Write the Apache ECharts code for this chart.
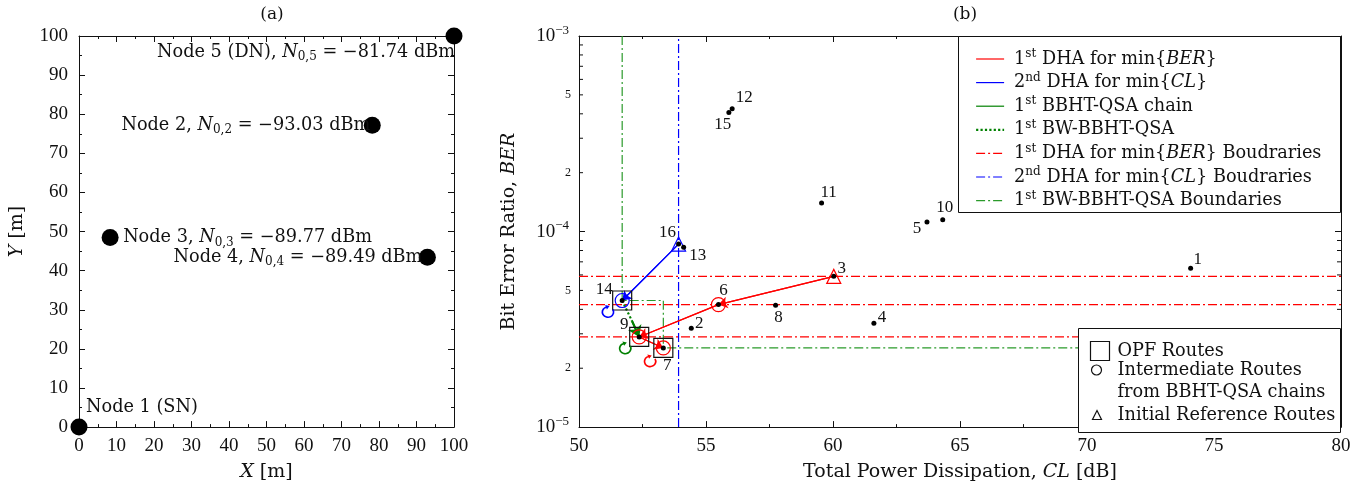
<!DOCTYPE html>
<html><head><meta charset="utf-8">
<script src="https://cdn.jsdelivr.net/npm/echarts@6/dist/echarts.min.js"></script>
<style>html,body{margin:0;padding:0;background:#fff}#c{width:1365px;height:489px}</style>
</head><body><div id="c"></div>
<script>
// ---------- Panel (a): node layout ----------
const nodeNames = ['Node 1 (SN)', 'Node 2', 'Node 3', 'Node 4', 'Node 5 (DN)'];
const nodeX = [0, 78.2, 8.3, 92.9, 100];
const nodeY = [0, 77.2, 48.5, 43.4, 100];
const nodeNoise = [null, -93.03, -89.77, -89.49, -81.74];
const nodeSub = [null, '0,2', '0,3', '0,4', '0,5'];
const axisTicksA = [0, 10, 20, 30, 40, 50, 60, 70, 80, 90, 100];

// ---------- Panel (b): routes ----------
const routeIds = [1, 2, 3, 4, 5, 6, 7, 8, 9, 10, 11, 12, 13, 14, 15, 16];
const routeCL  = [74.08, 54.42, 60.03, 61.61, 63.70, 55.49, 53.32, 57.74, 52.37, 64.32, 59.55, 56.03, 54.12, 51.70, 55.90, 53.92];
const routeBER = [6.5e-5, 3.2e-5, 5.9e-5, 3.4e-5, 1.12e-4, 4.23e-5, 2.54e-5, 4.2e-5, 2.89e-5, 1.15e-4, 1.4e-4, 4.25e-4, 8.3e-5, 4.44e-5, 4.06e-4, 8.63e-5];

const redPath = [3, 6, 9, 7];          // 1st DHA for min{BER}
const bluePath = [16, 14];             // 2nd DHA for min{CL}
const chainMid = [52.09, 3.48e-5];     // where the BW dotted part turns into the chain arrow
const opfRoutes = [14, 9, 7];
const intermediateRed = [6, 9, 7];
const intermediateBlue = [14];
const initialRed = [3];
const initialBlue = [16];

const loopCL  = [51.14, 51.82, 52.80];
const loopBER = [3.9e-5, 2.54e-5, 2.18e-5];

const redBoundBER = [5.9e-5, 4.23e-5, 2.89e-5];
const blueBoundCL = [53.92];
const greenBound = [[51.70, 1e-3], [51.70, 4.44e-5], [53.32, 4.44e-5], [53.32, 2.54e-5], [80, 2.54e-5]];

const xTicksB = [50, 55, 60, 65, 70, 75, 80];
const X_MIN = 50, X_MAX = 80, BER_MIN = 1e-5, BER_MAX = 1e-3;
const berMinorTicks = [2e-5,3e-5,4e-5,5e-5,6e-5,7e-5,8e-5,9e-5,2e-4,3e-4,4e-4,5e-4,6e-4,7e-4,8e-4,9e-4];
const berMinorLabelVals = [2e-5, 5e-5, 2e-4, 5e-4];
const berMinorLabels = ['2', '5', '2', '5'];

// ---------- styles ----------
const FONT = 'DejaVu Serif';
const NUMFONT = 'Liberation Serif';
const INK = '#111';
const RED = '#ff0000', BLUE = '#0000ff', GREEN = '#008000', GREEN_B = '#2a9a2a';
const DASHDOT = [9, 3, 2, 3];
const loopColors = [BLUE, GREEN, RED];
const ROUTE_DOT = 5, NODE_DOT = 17;
const routeLabelOffset = {
  1:[7,-9], 2:[8,-5], 3:[8,-8], 4:[8,-6], 5:[-10,7], 6:[5,-14], 7:[4,18], 8:[3,12],
  9:[-15,-12], 10:[2,-12], 11:[7,-10], 12:[12,-11], 13:[14,8], 14:[-18,-11], 15:[-6,12], 16:[-11,-12]
};
const nodeLabelStyle = [
  {align:'left', offset:[7,-20]},
  {align:'right', offset:[-2,0]},
  {align:'left', offset:[13,0]},
  {align:'right', offset:[-5,0]},
  {align:'right', offset:[1,16]}
];

const N_DHA1 = '1st DHA for min{BER}';
const N_DHA2 = '2nd DHA for min{CL}';
const N_CHAIN = '1st BBHT-QSA chain';
const N_BW = '1st BW-BBHT-QSA';
const N_DHA1B = '1st DHA for min{BER} Boudraries';
const N_DHA2B = '2nd DHA for min{CL} Boudraries';
const N_BWB = '1st BW-BBHT-QSA Boundaries';
const N_OPF = 'OPF Routes';
const N_INT = 'Intermediate Routes\nfrom BBHT-QSA chains';
const N_INIT = 'Initial Reference Routes';
const legendRich = {};
legendRich[N_DHA1] = '1{sup|st} DHA for min{{it|BER}}';
legendRich[N_DHA2] = '2{sup|nd} DHA for min{{it|CL}}';
legendRich[N_CHAIN] = '1{sup|st} BBHT-QSA chain';
legendRich[N_BW] = '1{sup|st} BW-BBHT-QSA';
legendRich[N_DHA1B] = '1{sup|st} DHA for min{{it|BER}} Boudraries';
legendRich[N_DHA2B] = '2{sup|nd} DHA for min{{it|CL}} Boudraries';
legendRich[N_BWB] = '1{sup|st} BW-BBHT-QSA Boundaries';

const LOOP_PATH = 'path://M82.9,31 A38,38 0 1 1 37,14.3 L33.6,4.9 L59.4,11.5 L43.8,33.1 L40.4,23.7 A28,28 0 1 0 74.2,36 Z';

function pt(id) { return [routeCL[id - 1], routeBER[id - 1]]; }
function segs(points) { const s = []; for (let i = 0; i < points.length - 1; i++) s.push({coords: [points[i], points[i + 1]]}); return s; }

const TXT = 17.7;
const richCommon = {
  it: {fontFamily: FONT, fontStyle: 'italic', fontSize: TXT, lineHeight: 22, color: INK},
  sup: {fontFamily: FONT, fontSize: 12, lineHeight: 13, verticalAlign: 'top', color: INK},
  sub: {fontFamily: FONT, fontSize: 12, lineHeight: 12, verticalAlign: 'bottom', color: INK}
};

const axisLineS = {show: true, onZero: false, lineStyle: {color: INK, width: 1}};
const tickS = {show: true, inside: true, length: 6, lineStyle: {color: INK, width: 1}};
const minorS = {show: true, splitNumber: 2, length: 3, lineStyle: {color: INK, width: 1}};

function valAxis(gridIndex, pos, min, max, interval, showLabel, extra) {
  return Object.assign({
    gridIndex, type: 'value', position: pos, min, max, interval,
    axisLine: axisLineS, axisTick: tickS, minorTick: minorS,
    splitLine: {show: false}, minorSplitLine: {show: false},
    axisLabel: {show: showLabel, fontFamily: NUMFONT, fontSize: 19, color: INK,
      margin: (pos === 'left' ? 11 : 9)}
  }, extra || {});
}
function logAxis(pos, showLabel, extra) {
  return Object.assign({
    gridIndex: 1, type: 'log', logBase: 10, position: pos, min: BER_MIN, max: BER_MAX,
    axisLine: axisLineS, axisTick: tickS, minorTick: {show: false},
    splitLine: {show: false}, minorSplitLine: {show: false},
    axisLabel: {
      show: showLabel, margin: 10, fontFamily: NUMFONT, color: INK, fontSize: 19, lineHeight: 24,
      formatter: v => '{b|10}{s|\u2212' + Math.abs(Math.round(Math.log10(v))) + '}',
      rich: {
        b: {fontFamily: NUMFONT, fontSize: 19, lineHeight: 24, color: INK},
        s: {fontFamily: NUMFONT, fontSize: 13, lineHeight: 14, verticalAlign: 'top', color: INK}
      }
    }
  }, extra || {});
}
const nameStyle = {fontFamily: FONT, color: INK, fontSize: 19, lineHeight: 24, rich: {
  i: {fontFamily: FONT, fontStyle: 'italic', fontSize: 19, lineHeight: 24, color: INK}
}};

const gB = {xAxisIndex: 2, yAxisIndex: 2};
const series = [];

// boundaries
redBoundBER.forEach(b => series.push({type: 'line', name: N_DHA1B, ...gB, data: [[X_MIN, b], [X_MAX, b]], color: RED,
  symbol: 'none', silent: true, z: 2, lineStyle: {color: RED, width: 1.2, type: DASHDOT}}));
blueBoundCL.forEach(c => series.push({type: 'line', name: N_DHA2B, ...gB, data: [[c, BER_MIN], [c, BER_MAX]], color: BLUE,
  symbol: 'none', silent: true, z: 2, lineStyle: {color: BLUE, width: 1.2, type: DASHDOT}}));
series.push({type: 'line', name: N_BWB, ...gB, data: greenBound, color: GREEN_B,
  symbol: 'none', silent: true, z: 2, lineStyle: {color: GREEN_B, width: 1.2, type: DASHDOT}});

// search paths
function pathSeries(name, points, color, width, type, arrows, arrowSize) {
  series.push({type: 'line', name, ...gB, data: points, symbol: 'none', silent: true, z: 4, color,
    lineStyle: {color, width, type: type || 'solid'}});
  if (arrows) series.push({type: 'lines', name, coordinateSystem: 'cartesian2d', ...gB, data: segs(points),
    symbol: ['none', 'arrow'], symbolSize: arrowSize || 9, silent: true, z: 4,
    lineStyle: {color, width, type: 'solid', curveness: 0, opacity: 1}});
}
pathSeries(N_DHA1, redPath.map(pt), RED, 1.2, 'solid', true, 9);
pathSeries(N_DHA2, bluePath.map(pt), BLUE, 1.2, 'solid', true, 9);
pathSeries(N_CHAIN, [chainMid, pt(9)], GREEN, 2, 'solid', true, 11);
pathSeries(N_BW, [pt(14), chainMid], GREEN, 2.2, 'dotted', false);

// markers
series.push({type: 'scatter', name: N_OPF, ...gB, data: opfRoutes.map(pt), symbol: 'rect', symbolSize: 19, z: 6, silent: true,
  itemStyle: {color: 'none', borderColor: '#111', borderWidth: 1.2, opacity: 1}});
series.push({type: 'scatter', name: N_INT, ...gB, symbol: 'circle', symbolSize: 14, z: 6, silent: true,
  itemStyle: {color: 'none', borderColor: '#111', borderWidth: 1.2, opacity: 1},
  data: intermediateRed.map(id => ({value: pt(id), itemStyle: {borderColor: RED}}))
    .concat(intermediateBlue.map(id => ({value: pt(id), itemStyle: {borderColor: BLUE}})))});
series.push({type: 'scatter', name: N_INIT, ...gB, symbol: 'triangle', symbolSize: 14, z: 6, silent: true,
  itemStyle: {color: 'none', borderColor: '#111', borderWidth: 1.2, opacity: 1},
  data: initialRed.map(id => ({value: pt(id), itemStyle: {borderColor: RED}}))
    .concat(initialBlue.map(id => ({value: pt(id), itemStyle: {borderColor: BLUE}})))});
series.push({type: 'scatter', name: 'loops', ...gB, symbol: LOOP_PATH, symbolSize: 13, z: 6, silent: true,
  itemStyle: {opacity: 1},
  data: loopCL.map((c, i) => ({value: [c, loopBER[i]], itemStyle: {color: loopColors[i]}}))});

// route dots with numbers
series.push({type: 'scatter', name: 'routes', ...gB, symbolSize: ROUTE_DOT, z: 8, silent: true,
  itemStyle: {color: '#000', opacity: 1},
  data: routeIds.map(id => ({value: pt(id), label: {position: [ROUTE_DOT / 2 + routeLabelOffset[id][0], ROUTE_DOT / 2 + routeLabelOffset[id][1]]}})),
  label: {show: true, align: 'center', verticalAlign: 'middle', formatter: p => String(routeIds[p.dataIndex]),
    fontFamily: NUMFONT, fontSize: 17, color: INK}});

// log minor ticks and their labels
series.push({type: 'custom', name: 'minorTicks', ...gB, clip: false, silent: true, z: 3,
  data: berMinorTicks.map(v => [X_MIN, v]),
  renderItem: (params, api) => {
    const v = api.value(1);
    const pL = api.coord([X_MIN, v]);
    const pR = api.coord([X_MAX, v]);
    return {type: 'group', children: [
      {type: 'line', shape: {x1: pL[0], y1: pL[1], x2: pL[0] + 4, y2: pL[1]}, style: {stroke: INK, lineWidth: 1}},
      {type: 'line', shape: {x1: pR[0], y1: pR[1], x2: pR[0] - 4, y2: pR[1]}, style: {stroke: INK, lineWidth: 1}}
    ]};
  }});
series.push({type: 'custom', name: 'minorLabels', ...gB, clip: false, silent: true, z: 3,
  data: berMinorLabelVals.map(v => [X_MIN, v]),
  renderItem: (params, api) => {
    const p = api.coord([X_MIN, api.value(1)]);
    return {type: 'text', x: p[0] - 8, y: p[1], style: {text: berMinorLabels[params.dataIndex],
      fontFamily: NUMFONT, fontSize: 12, fill: INK, align: 'right', verticalAlign: 'middle'}};
  }});

// panel (a) nodes
series.push({type: 'scatter', name: 'nodes', xAxisIndex: 0, yAxisIndex: 0, symbolSize: NODE_DOT, z: 5, silent: true,
  itemStyle: {color: '#000', opacity: 1},
  data: nodeX.map((x, i) => ({value: [x, nodeY[i]], label: {align: nodeLabelStyle[i].align,
    position: [NODE_DOT / 2 + nodeLabelStyle[i].offset[0], NODE_DOT / 2 + nodeLabelStyle[i].offset[1]]}})),
  label: {show: true, verticalAlign: 'middle', fontFamily: FONT, fontSize: TXT, lineHeight: 22, color: INK,
    formatter: p => {
      const i = p.dataIndex;
      if (nodeNoise[i] == null) return nodeNames[i];
      return nodeNames[i] + ', {it|N}{sub|' + nodeSub[i] + '} = \u2212' + Math.abs(nodeNoise[i]).toFixed(2) + ' dBm';
    },
    rich: richCommon}});

const legendText = {fontFamily: FONT, fontSize: TXT, lineHeight: 22, color: INK};
const hideSym = {color: 'rgba(0,0,0,0)', borderColor: 'rgba(0,0,0,0)', borderWidth: 0, opacity: 0};

const option = {
  animation: false,
  backgroundColor: '#fff',
  title: [
    {text: '(a)', left: 267, top: 1, textAlign: 'center', textStyle: {fontFamily: FONT, fontSize: 17, fontWeight: 'normal', color: INK}},
    {text: '(b)', left: 960, top: 1, textAlign: 'center', textStyle: {fontFamily: FONT, fontSize: 17, fontWeight: 'normal', color: INK}}
  ],
  grid: [
    {left: 79, top: 36, width: 375, height: 396},
    {left: 579, top: 36, width: 762, height: 396}
  ],
  xAxis: [
    valAxis(0, 'bottom', axisTicksA[0], axisTicksA[axisTicksA.length - 1], 10, true,
      {name: '{i|X} [m]', nameLocation: 'middle', nameGap: 27, nameTextStyle: nameStyle}),
    valAxis(0, 'top', axisTicksA[0], axisTicksA[axisTicksA.length - 1], 10, false),
    valAxis(1, 'bottom', xTicksB[0], xTicksB[xTicksB.length - 1], 5, true,
      {name: 'Total Power Dissipation, {i|CL} [dB]', nameLocation: 'middle', nameGap: 27, nameTextStyle: nameStyle}),
    valAxis(1, 'top', xTicksB[0], xTicksB[xTicksB.length - 1], 5, false)
  ],
  yAxis: [
    valAxis(0, 'left', axisTicksA[0], axisTicksA[axisTicksA.length - 1], 10, true,
      {name: '{i|Y} [m]', nameLocation: 'middle', nameGap: 50, nameTextStyle: nameStyle}),
    valAxis(0, 'right', axisTicksA[0], axisTicksA[axisTicksA.length - 1], 10, false),
    logAxis('left', true, {name: 'Bit Error Ratio, {i|BER}', nameLocation: 'middle', nameGap: 58, nameTextStyle: nameStyle}),
    logAxis('right', false)
  ],
  graphic: [
    {type: 'rect', z: 50, shape: {x: 958.5, y: 36.5, width: 382, height: 176}, style: {fill: '#fff', stroke: INK, lineWidth: 1}},
    {type: 'rect', z: 50, shape: {x: 1078.5, y: 328.5, width: 262, height: 104}, style: {fill: '#fff', stroke: INK, lineWidth: 1}}
  ],
  legend: [
    {z: 100, orient: 'vertical', left: 975, top: 48, padding: 0, itemWidth: 28, itemHeight: 14, itemGap: 1.6,
      selectedMode: false,
      data: [
        {name: N_DHA1, itemStyle: hideSym, lineStyle: {color: RED, width: 1.2, type: 'solid'}},
        {name: N_DHA2, itemStyle: hideSym, lineStyle: {color: BLUE, width: 1.2, type: 'solid'}},
        {name: N_CHAIN, itemStyle: hideSym, lineStyle: {color: GREEN, width: 1.2, type: 'solid'}},
        {name: N_BW, itemStyle: hideSym, lineStyle: {color: GREEN, width: 2.2, type: 'dotted'}},
        {name: N_DHA1B, itemStyle: hideSym, lineStyle: {color: RED, width: 1.1, type: DASHDOT}},
        {name: N_DHA2B, itemStyle: hideSym, lineStyle: {color: BLUE, width: 1.1, type: DASHDOT}},
        {name: N_BWB, itemStyle: hideSym, lineStyle: {color: GREEN_B, width: 1.1, type: DASHDOT}}
      ],
      formatter: name => legendRich[name] || name,
      textStyle: Object.assign({padding: [0, 0, 0, 5], rich: {
        it: {fontFamily: FONT, fontStyle: 'italic', fontSize: TXT, lineHeight: 22, color: INK},
        sup: {fontFamily: FONT, fontSize: 12, lineHeight: 14, verticalAlign: 'top', color: INK}
      }}, legendText)},
    {z: 100, left: 1088, top: 339, padding: 0, itemWidth: 19, itemHeight: 19, selectedMode: false,
      data: [{name: N_OPF, icon: 'rect', itemStyle: {color: 'none', borderColor: '#111', borderWidth: 1.2}}],
      textStyle: Object.assign({padding: [0, 0, 0, 3]}, legendText)},
    {z: 100, left: 1089, top: 337, padding: 0, itemWidth: 10, itemHeight: 10, selectedMode: false,
      data: [{name: N_INT, icon: 'circle', itemStyle: {color: 'none', borderColor: '#111', borderWidth: 1.2}}],
      formatter: name => '\n' + name,
      textStyle: Object.assign({padding: [0, 0, 0, 11]}, legendText)},
    {z: 100, left: 1090, top: 404, padding: 0, itemWidth: 9, itemHeight: 9, selectedMode: false,
      data: [{name: N_INIT, icon: 'triangle', itemStyle: {color: 'none', borderColor: '#111', borderWidth: 1.2}}],
      textStyle: Object.assign({padding: [0, 0, 0, 11]}, legendText)}
  ],
  series
};

const chart = echarts.init(document.getElementById('c'), null, {renderer: 'canvas'});
chart.setOption(option);
</script>
</body></html>
